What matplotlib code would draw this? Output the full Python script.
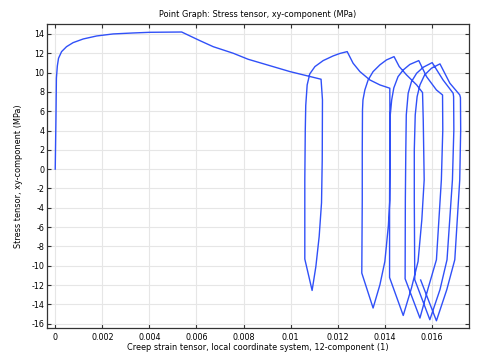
import numpy as np
import matplotlib
matplotlib.use('Agg')
import matplotlib.pyplot as plt
from matplotlib.ticker import FuncFormatter, MultipleLocator

plt.rcParams['axes.unicode_minus'] = False
plt.rcParams['font.family'] = 'DejaVu Sans'

# creep strain (1) and stress (MPa), in path order
# initial loading up to the first plateau and relaxation
strain = [0.0, 0.00003, 0.00005, 0.00009, 0.00014, 0.00027, 0.00048, 0.00076,
          0.00119, 0.00176, 0.00246, 0.00331, 0.00402, 0.00537,
          0.00614, 0.00671, 0.00756, 0.00819, 0.00997, 0.01129,
          # unload 0
          0.01135, 0.01134, 0.01131, 0.01121, 0.01107, 0.01091,
          # reload 1
          0.0106, 0.0106, 0.01062, 0.01064, 0.0107, 0.01081, 0.01103, 0.01138,
          0.0118, 0.01209, 0.0124,
          0.01265, 0.01294, 0.01336, 0.01379, 0.01421,
          # unload 1
          0.01422, 0.01421, 0.01415, 0.014, 0.01379, 0.0135,
          # reload 2
          0.01302, 0.01304, 0.01304, 0.01305, 0.01307, 0.01315, 0.01329, 0.0135,
          0.01379, 0.01407, 0.01439,
          0.01461, 0.01492, 0.01535, 0.0156,
          # unload 2
          0.01563, 0.01567, 0.01557, 0.01541, 0.01513, 0.01478,
          # reload 3
          0.0142, 0.0142, 0.01421, 0.01423, 0.01429, 0.01438, 0.01456, 0.01478,
          0.01506, 0.01544,
          0.01577, 0.01619, 0.01645,
          # unload 3
          0.01646, 0.0164, 0.01619, 0.01584, 0.01549,
          # reload 4
          0.01486, 0.01487, 0.01489, 0.01491, 0.01499, 0.01513, 0.01535, 0.01563,
          0.01601,
          0.01647, 0.0169, 0.01692,
          # unload 4
          0.01693, 0.01687, 0.01664, 0.01634, 0.01591,
          # reload 5
          0.01527, 0.01525, 0.01525, 0.01529, 0.01537, 0.01549, 0.01569, 0.01598,
          0.01634,
          0.01676, 0.01718, 0.01721,
          # unload 5
          0.01722, 0.01718, 0.01697, 0.01663, 0.01619, 0.01552]

stress = [0.0, 5.1, 9.42, 10.69, 11.48, 12.17, 12.68, 13.10,
          13.48, 13.79, 14.0, 14.1, 14.17, 14.2,
          13.31, 12.68, 12.0, 11.38, 10.1, 9.31,
          7.17, 0.96, -3.49, -6.97, -10.08, -12.56,
          -9.31, -1.11, 4.07, 6.6, 8.72, 9.86, 10.62, 11.24,
          11.72, 11.98, 12.17,
          10.97, 10.1, 9.24, 8.72, 8.38,
          2.0, -3.2, -5.82, -9.56, -11.97, -14.38,
          -10.76, -3.18, 2.0, 6.14, 7.17, 8.2, 9.24, 10.1,
          10.8, 11.31, 11.65,
          10.62, 9.76, 8.72, 7.93,
          5.1, -1.11, -5.24, -9.56, -12.31, -15.15,
          -11.22, -3.18, 2.0, 5.62, 7.17, 8.41, 9.58, 10.27,
          10.84, 11.24,
          9.58, 8.2, 7.68,
          4.06, -1.11, -9.38, -12.31, -15.42,
          -11.35, -3.18, 2.0, 5.62, 7.86, 9.06, 9.93, 10.55,
          11.03,
          9.24, 7.86, 7.51,
          4.07, -1.11, -9.38, -12.48, -15.59,
          -11.45, -3.18, 2.0, 5.62, 7.51, 8.72, 9.76, 10.45,
          10.9,
          8.9, 7.69, 7.41,
          4.07, -1.11, -9.38, -12.48, -15.7, -11.48]

xticks = [0, 0.002, 0.004, 0.006, 0.008, 0.01, 0.012, 0.014, 0.016]
yticks = list(range(-16, 15, 2))

fig = plt.figure(figsize=(4.78, 3.57), dpi=100)
ax = fig.add_axes([0.0983, 0.0812, 0.8827, 0.8516])

ax.plot(strain, stress, color='#3050f8', lw=1.0)

ax.set_xlim(-0.00035, 0.01757)
ax.set_ylim(-16.45, 15.03)
ax.set_xticks(xticks)
ax.set_yticks(yticks)
ax.xaxis.set_major_formatter(FuncFormatter(lambda v, p: '%g' % round(v, 4)))
ax.grid(True, color='#e6e6e6', lw=0.8)
ax.set_axisbelow(True)

ax.tick_params(direction='in', top=True, right=True, length=3, width=0.8,
               labelsize=5.8, color='#333333')
ax.tick_params(axis='x', pad=3.5)
ax.tick_params(axis='y', pad=2)
for s in ax.spines.values():
    s.set_color('#333333')
    s.set_linewidth(0.9)

ax.set_title('Point Graph: Stress tensor, xy-component (MPa)', fontsize=5.9, pad=5)
ax.set_xlabel('Creep strain tensor, local coordinate system, 12-component (1)', fontsize=5.9, labelpad=1)
ax.set_ylabel('Stress tensor, xy-component (MPa)', fontsize=5.9, labelpad=6)

fig.savefig('out.png', dpi=100)
